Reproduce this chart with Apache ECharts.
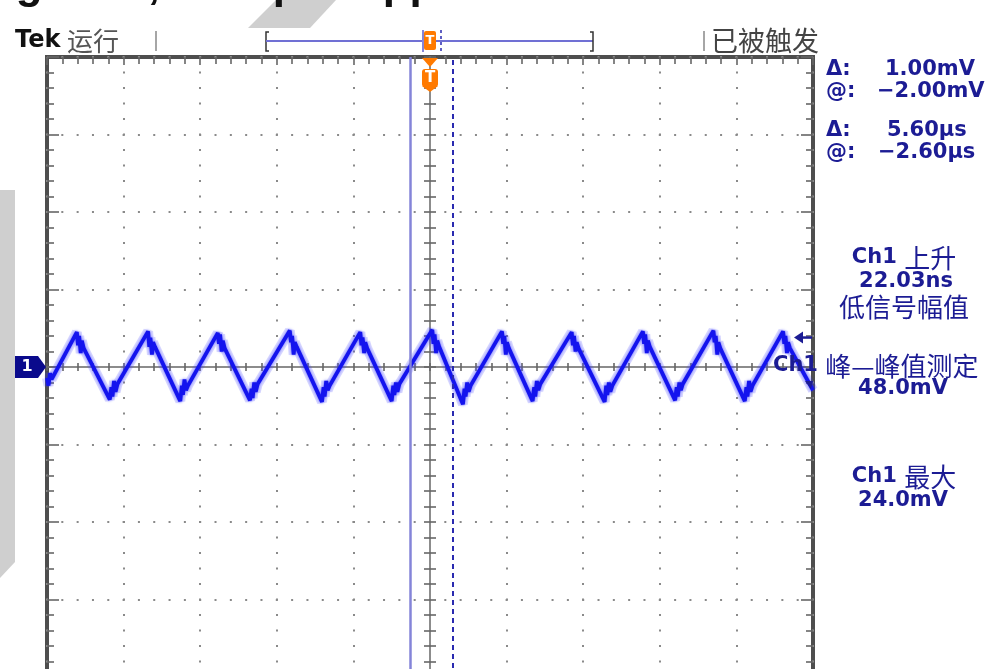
<!DOCTYPE html>
<html>
<head>
<meta charset="utf-8">
<script src="https://cdn.jsdelivr.net/npm/echarts@6/dist/echarts.min.js"></script>
<style>
  html, body { margin: 0; padding: 0; background: #fff; }
  #scope { width: 986px; height: 669px; }
</style>
</head>
<body>
<div id="scope"></div>
<script>
// Ch1 ripple trace: time in microseconds, amplitude in millivolts
const timeUs = [
  -50.0, -49.8, -49.6, -49.4, -46.1,
  -45.95, -45.8, -45.6, -45.45, -45.2, -41.8,
  -41.6, -41.45, -41.25, -41.05, -40.8, -36.8,
  -36.65, -36.5, -36.3, -36.15, -35.9, -32.6,
  -32.4, -32.25, -32.05, -31.85, -31.6, -27.7,
  -27.55, -27.4, -27.2, -27.05, -26.8, -23.5,
  -23.3, -23.15, -22.95, -22.75, -22.5, -18.3,
  -18.15, -18.0, -17.8, -17.65, -17.4, -14.1,
  -13.9, -13.75, -13.55, -13.35, -13.1, -9.1,
  -8.95, -8.8, -8.6, -8.45, -8.2, -5.0,
  -4.8, -4.65, -4.45, -4.25, -4.0, 0.3,
  0.45, 0.6, 0.8, 0.95, 1.2, 4.3,
  4.5, 4.65, 4.85, 5.05, 5.3, 9.4,
  9.55, 9.7, 9.9, 10.05, 10.3, 13.4,
  13.6, 13.75, 13.95, 14.15, 14.4, 18.5,
  18.65, 18.8, 19.0, 19.15, 19.4, 22.8,
  23.0, 23.15, 23.35, 23.55, 23.8, 27.8,
  27.95, 28.1, 28.3, 28.45, 28.7, 32.0,
  32.2, 32.35, 32.55, 32.75, 33.0, 37.0,
  37.15, 37.3, 37.5, 37.65, 37.9, 41.1,
  41.3, 41.45, 41.65, 41.85, 42.1, 46.1,
  46.25, 46.4, 46.6, 46.75, 47.0, 50.0
];
const ch1mV = [
  -7, -12, -4, -8, 22.5,
  14, 20, 9, 17, 12, -21,
  -13, -19, -9, -16, -11, 23,
  13, 19, 8, 16, 13, -22,
  -12, -18, -8, -15, -12, 22,
  15, 21, 10, 17, 12, -21.5,
  -14, -20, -10, -16, -11, 23.5,
  16, 20, 8, 16, 13, -22.5,
  -13, -19, -9, -15, -12, 22.5,
  14, 19, 9, 16, 12, -22,
  -12, -18, -10, -16, -11, 24.0,
  15, 21, 9, 17, 13, -24.0,
  -14, -19, -10, -16, -12, 23,
  15, 20, 8, 16, 12, -22,
  -13, -19, -9, -15, -11, 22.5,
  14, 20, 10, 16, 12, -22.5,
  -12, -18, -10, -16, -12, 23,
  15, 21, 9, 17, 13, -21.5,
  -13, -19, -10, -15, -11, 23.5,
  16, 20, 8, 16, 12, -22,
  -13, -19, -9, -16, -12, 23,
  15, 20, 9, 16, 12, -15
];

// Horizontal: 10 us/div, vertical: 50 mV/div
const timeRangeUs = [-50, 50];
const timePerDivUs = 10;
const voltRangeMv = [-200, 200];
const voltPerDivMv = 50;

// Cursor readouts
const vCursorAtMv = -2.00, vCursorDeltaMv = 1.00;
const tCursorAtUs = -2.60, tCursorDeltaUs = 5.60;

// Measurements
const riseTimeNs = 22.03;
const peakToPeakMv = 48.0;
const maxMv = 24.0;
const triggerLevelMv = 19;

const NAVY = '#1c1c94';
const ORANGE = '#ff7a00';

const fmt = (v, d) => (v < 0 ? '\u2212' : '') + Math.abs(v).toFixed(d);

const trace = timeUs.map((t, i) => [t, ch1mV[i]]);

const GRID = { left: 47, top: 57, width: 766, height: 620 };
const tickCol = '#666666';

function frameAxis(dim, position, onZero, inside, len, minorLen, showLine) {
  const isX = dim === 'x';
  return {
    type: 'value',
    min: isX ? timeRangeUs[0] : voltRangeMv[0],
    max: isX ? timeRangeUs[1] : voltRangeMv[1],
    interval: isX ? timePerDivUs : voltPerDivMv,
    position: position,
    axisLine: { show: showLine, onZero: onZero, lineStyle: { color: '#8c8c8c', width: 2 } },
    axisTick: { show: true, inside: inside, length: len, lineStyle: { color: tickCol, width: 1.6 } },
    minorTick: { show: true, splitNumber: 5, length: minorLen, lineStyle: { color: tickCol, width: 1.6 } },
    axisLabel: { show: false },
    splitLine: { show: false }
  };
}

const xCentre = frameAxis('x', 'bottom', true, false, 4, 4, true);
xCentre.splitLine = { show: true, lineStyle: { color: '#8a8a8a', width: 2, type: [2, 13.5], dashOffset: 1 } };
const yCentre = frameAxis('y', 'left', true, false, 6, 6, true);
yCentre.splitLine = { show: true, lineStyle: { color: '#8a8a8a', width: 2, type: [2, 13.32], dashOffset: 1 } };

const option = {
  animation: false,
  backgroundColor: '#ffffff',
  grid: Object.assign({
    show: true, borderColor: '#4e4e4e', borderWidth: 4, backgroundColor: '#ffffff',
    outerBoundsMode: 'none', containLabel: false
  }, GRID),
  xAxis: [
    xCentre,
    frameAxis('x', 'bottom', true, true, 4, 4, false),
    frameAxis('x', 'top', false, true, 8, 7, false)
  ],
  yAxis: [
    yCentre,
    frameAxis('y', 'left', true, true, 6, 6, false),
    frameAxis('y', 'left', false, true, 12, 7, false),
    frameAxis('y', 'right', false, true, 12, 7, false)
  ],
  series: [
    {
      type: 'line', name: 'Ch1 haze', data: trace, showSymbol: false, silent: true, z: 3,
      lineStyle: { color: 'rgba(70,70,255,0.2)', width: 10 }
    },
    {
      type: 'line', name: 'Ch1', data: trace, showSymbol: false, silent: true, z: 4,
      lineStyle: { color: '#1414ee', width: 3.8, shadowBlur: 3, shadowColor: 'rgba(30,30,255,0.7)' },
      markLine: {
        silent: true, symbol: 'none', label: { show: false }, animation: false,
        data: [
          { xAxis: tCursorAtUs, lineStyle: { color: '#8484d8', width: 2.5, type: 'solid' } },
          { xAxis: tCursorAtUs + tCursorDeltaUs, lineStyle: { color: '#2a2ab0', width: 2, type: [5, 4] } }
        ]
      }
    }
  ]
};

const chart = echarts.init(document.getElementById('scope'), null, { renderer: 'canvas' });
chart.setOption(option);

const px = v => chart.convertToPixel({ xAxisIndex: 0 }, v);
const py = v => chart.convertToPixel({ yAxisIndex: 0 }, v);
const trigX = px(0);
const zeroY = py(0);
const trigY = py(triggerLevelMv);

function txt(x, y, text, font, fill, align) {
  return {
    type: 'text', x: x, y: y, z: 20,
    style: { text: text, font: font, fill: fill, textAlign: align || 'left', align: align || 'left',
             textVerticalAlign: 'middle', verticalAlign: 'middle' }
  };
}
function rich(x, y, parts, align) {
  return {
    type: 'text', x: x, y: y, z: 20,
    style: {
      text: parts.map(p => '{' + p[0] + '|' + p[1] + '}').join(''),
      textAlign: align, align: align, textVerticalAlign: 'middle', verticalAlign: 'middle',
      rich: {
        l: { font: 'bold 21px "DejaVu Sans"', fill: NAVY },
        c: { font: '26px "Noto Sans CJK SC"', fill: NAVY }
      }
    }
  };
}

const latinBig = 'bold 21px "DejaVu Sans"';
const latinSm = 'bold 21px "DejaVu Sans"';
const cjk = '26px "Noto Sans CJK SC"';

const graphics = [
  // slide decoration behind the capture
  { type: 'polygon', z: 1, shape: { points: [[248, 28], [310, 28], [336, 0], [276, 0]] }, style: { fill: '#cfcfcf' } },
  { type: 'polygon', z: 1, shape: { points: [[0, 190], [15, 190], [15, 562], [0, 578]] }, style: { fill: '#cfcfcf' } },
  // heading above the capture (cut off by the page edge)
  txt(160, -14, 'Full Loading 2.5A,', 'bold 44px "Liberation Sans"', '#111', 'right'),
  txt(197, -14, 'Output ripple', 'bold 44px "Liberation Sans"', '#111', 'left'),

  // status bar
  txt(15, 41, 'Tek', 'bold 24px "DejaVu Sans"', '#111', 'left'),
  txt(67, 41, '运行', '26px "Noto Sans CJK SC"', '#555', 'left'),
  { type: 'line', z: 10, shape: { x1: 156, y1: 31, x2: 156, y2: 51 }, style: { stroke: '#888', lineWidth: 1.5 } },
  { type: 'polyline', z: 10, shape: { points: [[269, 32], [266, 32], [266, 51], [269, 51]] }, style: { stroke: '#333', lineWidth: 1.5, fill: null } },
  { type: 'line', z: 10, shape: { x1: 266, y1: 41, x2: 593, y2: 41 }, style: { stroke: '#7070d4', lineWidth: 2 } },
  { type: 'polyline', z: 10, shape: { points: [[590, 32], [593, 32], [593, 51], [590, 51]] }, style: { stroke: '#333', lineWidth: 1.5, fill: null } },
  { type: 'line', z: 11, shape: { x1: 423, y1: 30, x2: 423, y2: 52 }, style: { stroke: '#8484d8', lineWidth: 2 } },
  { type: 'line', z: 11, shape: { x1: 441, y1: 30, x2: 441, y2: 52 }, style: { stroke: '#2a2ab0', lineWidth: 1.5, lineDash: [3, 3] } },
  { type: 'rect', z: 12, shape: { x: trigX - 6, y: 31, width: 12, height: 19, r: 2 }, style: { fill: ORANGE } },
  txt(trigX, 41, 'T', 'bold 13px "DejaVu Sans"', '#fff', 'center'),
  { type: 'line', z: 10, shape: { x1: 704, y1: 31, x2: 704, y2: 51 }, style: { stroke: '#888', lineWidth: 1.5 } },
  txt(711, 41, '已被触发', '27px "Noto Sans CJK SC"', '#444', 'left'),

  // trigger position marker
  { type: 'polygon', z: 12, shape: { points: [[trigX - 8, 58], [trigX + 8, 58], [trigX, 67]] }, style: { fill: ORANGE } },
  { type: 'rect', z: 12, shape: { x: trigX - 8, y: 69, width: 16, height: 18, r: 3 }, style: { fill: ORANGE } },
  { type: 'polygon', z: 12, shape: { points: [[trigX - 8, 86], [trigX + 8, 86], [trigX, 92]] }, style: { fill: ORANGE } },
  txt(trigX, 78, 'T', 'bold 15px "DejaVu Sans"', '#fff', 'center'),

  // Ch1 ground reference marker
  { type: 'polygon', z: 12, shape: { points: [[15, zeroY - 11], [38, zeroY - 11], [46, zeroY], [38, zeroY + 11], [15, zeroY + 11]] }, style: { fill: '#0a0a8c' } },
  txt(27, zeroY, '1', 'bold 16px "DejaVu Sans"', '#fff', 'center'),

  // trigger level arrow and cursor mark at the right edge
  { type: 'polygon', z: 12, shape: { points: [[794, trigY], [803, trigY - 6], [803, trigY + 6]] }, style: { fill: NAVY } },
  { type: 'line', z: 12, shape: { x1: 800, y1: trigY, x2: 812, y2: trigY }, style: { stroke: NAVY, lineWidth: 2.5 } },
  { type: 'polygon', z: 12, shape: { points: [[805, zeroY + 14], [813, zeroY + 14], [811, zeroY + 22]] }, style: { fill: NAVY } },

  // cursor readouts
  txt(826, 70, '\u0394:', latinSm, NAVY, 'left'),
  txt(885, 70, fmt(vCursorDeltaMv, 2) + 'mV', latinSm, NAVY, 'left'),
  txt(826, 92, '@:', latinSm, NAVY, 'left'),
  txt(877, 92, fmt(vCursorAtMv, 2) + 'mV', latinSm, NAVY, 'left'),
  txt(826, 131, '\u0394:', latinSm, NAVY, 'left'),
  txt(887, 131, fmt(tCursorDeltaUs, 2) + 'µs', latinSm, NAVY, 'left'),
  txt(826, 153, '@:', latinSm, NAVY, 'left'),
  txt(878, 153, fmt(tCursorAtUs, 2) + 'µs', latinSm, NAVY, 'left'),

  // measurements
  rich(904, 258, [['l', 'Ch1 '], ['c', '上升']], 'center'),
  txt(906, 282, fmt(riseTimeNs, 2) + 'ns', latinBig, NAVY, 'center'),
  txt(904, 307, '低信号幅值', cjk, NAVY, 'center'),
  rich(773, 366, [['l', 'Ch1 '], ['c', '峰—峰值测定']], 'left'),
  txt(903, 389, fmt(peakToPeakMv, 1) + 'mV', latinBig, NAVY, 'center'),
  rich(904, 477, [['l', 'Ch1 '], ['c', '最大']], 'center'),
  txt(903, 501, fmt(maxMv, 1) + 'mV', latinBig, NAVY, 'center')
];

chart.setOption({ graphic: { elements: graphics } });
</script>
</body>
</html>
